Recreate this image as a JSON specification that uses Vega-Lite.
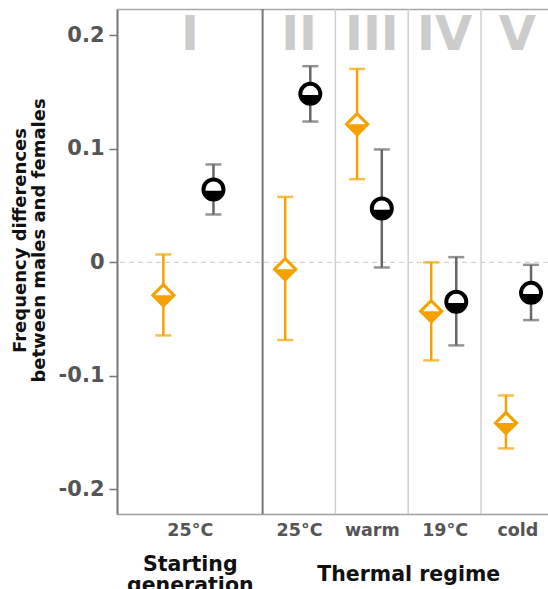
{
  "$schema": "https://vega.github.io/schema/vega-lite/v6.json",
  "autosize": {"type": "none"},
  "width": 431,
  "height": 505,
  "padding": {"left": 117, "top": 9, "right": 0, "bottom": 75},
  "datasets": {
    "points": [
      {"panel": "I", "series": "orange", "x": 0.637, "est": -0.0289, "lo": -0.0644, "hi": 0.007},
      {"panel": "I", "series": "black", "x": 1.325, "est": 0.0642, "lo": 0.0422, "hi": 0.0863},
      {"panel": "II", "series": "orange", "x": 2.31, "est": -0.006, "lo": -0.0685, "hi": 0.0577},
      {"panel": "II", "series": "black", "x": 2.655, "est": 0.1485, "lo": 0.1241, "hi": 0.1729},
      {"panel": "III", "series": "orange", "x": 3.298, "est": 0.1218, "lo": 0.0733, "hi": 0.1705},
      {"panel": "III", "series": "black", "x": 3.637, "est": 0.0475, "lo": -0.0045, "hi": 0.0995},
      {"panel": "IV", "series": "orange", "x": 4.316, "est": -0.043, "lo": -0.0864, "hi": 0.0},
      {"panel": "IV", "series": "black", "x": 4.66, "est": -0.0348, "lo": -0.0732, "hi": 0.0046},
      {"panel": "V", "series": "orange", "x": 5.343, "est": -0.1417, "lo": -0.164, "hi": -0.1173},
      {"panel": "V", "series": "black", "x": 5.687, "est": -0.0269, "lo": -0.0509, "hi": -0.0022}
    ],
    "dividers": [
      {"x": 2, "style": "major"},
      {"x": 3, "style": "minor"},
      {"x": 4, "style": "minor"},
      {"x": 5, "style": "minor"}
    ],
    "panels": [
      {"panel": "I", "x": 1},
      {"panel": "II", "x": 2.5},
      {"panel": "III", "x": 3.5},
      {"panel": "IV", "x": 4.5},
      {"panel": "V", "x": 5.5}
    ],
    "reference": [{"value": 0}]
  },
  "layer": [
    {
      "data": {"name": "reference"},
      "mark": {"type": "rule", "color": "#cccccc", "strokeWidth": 1, "strokeDash": [5, 4]},
      "encoding": {
        "y": {"field": "value", "type": "quantitative", "axis": null}
      }
    },
    {
      "data": {"name": "dividers"},
      "mark": {"type": "rule"},
      "encoding": {
        "x": {
          "field": "x",
          "type": "quantitative",
          "scale": {"domain": [0, 5.92], "nice": false, "zero": false},
          "axis": {"orient": "top", "domain": true, "domainColor": "#a8a8a8", "domainWidth": 1.5, "ticks": false, "labels": false, "title": null}
        },
        "color": {
          "field": "style",
          "type": "nominal",
          "scale": {"domain": ["major", "minor"], "range": ["#777777", "#d0d0d0"]},
          "legend": null
        },
        "strokeWidth": {
          "field": "style",
          "type": "ordinal",
          "scale": {"domain": ["major", "minor"], "range": [2, 1.5]},
          "legend": null
        }
      }
    },
    {
      "data": {"name": "panels"},
      "mark": {"type": "text", "fontSize": 48, "fontWeight": "bold", "color": "#cccccc", "baseline": "alphabetic", "align": "center"},
      "encoding": {
        "x": {
          "field": "x",
          "type": "quantitative",
          "axis": {
            "orient": "bottom",
            "values": [1],
            "labelExpr": "['Starting', 'generation']",
            "domain": false,
            "ticks": false,
            "labelPadding": 56,
            "labelBaseline": "alphabetic",
            "labelFontSize": 20.5,
            "labelLineHeight": 21,
            "labelColor": "#111111",
            "labelLimit": 0,
            "labelOverlap": false,
            "title": null
          }
        },
        "y": {"datum": 0.187, "type": "quantitative", "axis": null},
        "text": {"field": "panel"}
      }
    },
    {
      "data": {"name": "points"},
      "mark": {"type": "rule", "strokeWidth": 2.5},
      "encoding": {
        "x": {
          "field": "x",
          "type": "quantitative",
          "axis": {
            "orient": "bottom",
            "values": [1, 2.5, 3.5, 4.5, 5.5],
            "labelExpr": "datum.value == 1 || datum.value == 2.5 ? '25°C' : datum.value == 3.5 ? 'warm' : datum.value == 4.5 ? '19°C' : 'cold'",
            "domain": true,
            "domainColor": "#a0a0a0",
            "domainWidth": 1.5,
            "ticks": false,
            "labelPadding": 7,
            "labelFontSize": 17.5,
            "labelColor": "#555555",
            "labelOverlap": false,
            "title": null
          }
        },
        "y": {
          "field": "lo",
          "type": "quantitative",
          "scale": {"domain": [-0.2218, 0.2233], "nice": false, "zero": false},
          "axis": {
            "values": [-0.2, -0.1, 0, 0.1, 0.2],
            "labelExpr": "datum.value > 0.15 ? '0.2' : datum.value > 0.05 ? '0.1' : datum.value > -0.05 ? '0' : datum.value > -0.15 ? '-0.1' : '-0.2'",
            "domainColor": "#777777",
            "domainWidth": 2,
            "tickColor": "#777777",
            "tickWidth": 1.5,
            "tickSize": 8,
            "labelPadding": 5,
            "labelFontSize": 21,
            "labelColor": "#555555",
            "title": ["Frequency differences", "between males and females"],
            "titleFontSize": 18,
            "titleLineHeight": 19,
            "titleColor": "#111111",
            "titlePadding": 10,
            "titleY": 231
          }
        },
        "y2": {"field": "hi"},
        "color": {
          "field": "series",
          "type": "nominal",
          "scale": {"domain": ["orange", "black"], "range": ["#f5a200", "#666666"]},
          "legend": null
        }
      }
    },
    {
      "data": {"name": "points"},
      "mark": {"type": "tick", "orient": "horizontal", "size": 16, "thickness": 2.5},
      "encoding": {
        "x": {
          "field": "x",
          "type": "quantitative",
          "axis": {
            "orient": "bottom",
            "values": [4],
            "labelExpr": "'Thermal regime'",
            "domain": false,
            "ticks": false,
            "labelPadding": 66,
            "labelBaseline": "alphabetic",
            "labelFontSize": 20.5,
            "labelColor": "#111111",
            "labelLimit": 0,
            "labelOverlap": false,
            "title": null
          }
        },
        "y": {"field": "lo", "type": "quantitative", "axis": null},
        "color": {
          "field": "series",
          "type": "nominal",
          "scale": {"domain": ["orange", "black"], "range": ["#f5a200", "#666666"]},
          "legend": null
        }
      }
    },
    {
      "data": {"name": "points"},
      "mark": {"type": "tick", "orient": "horizontal", "size": 16, "thickness": 2.5},
      "encoding": {
        "x": {"field": "x", "type": "quantitative", "axis": null},
        "y": {"field": "hi", "type": "quantitative", "axis": null},
        "color": {
          "field": "series",
          "type": "nominal",
          "scale": {"domain": ["orange", "black"], "range": ["#f5a200", "#666666"]},
          "legend": null
        }
      }
    },
    {
      "data": {"name": "points"},
      "transform": [{"filter": "datum.series == 'orange'"}],
      "mark": {"type": "point", "shape": "diamond", "size": 440, "filled": true, "fill": "white", "stroke": "#f5a200", "strokeWidth": 3.2, "opacity": 1},
      "encoding": {
        "x": {"field": "x", "type": "quantitative", "axis": null},
        "y": {"field": "est", "type": "quantitative", "axis": null}
      }
    },
    {
      "data": {"name": "points"},
      "transform": [{"filter": "datum.series == 'orange'"}],
      "mark": {"type": "point", "shape": "M -1 0 L 1 0 L 0 1 Z", "size": 440, "filled": true, "fill": "#f5a200", "strokeWidth": 0, "opacity": 1},
      "encoding": {
        "x": {"field": "x", "type": "quantitative", "axis": null},
        "y": {"field": "est", "type": "quantitative", "axis": null}
      }
    },
    {
      "data": {"name": "points"},
      "transform": [{"filter": "datum.series == 'black'"}],
      "mark": {"type": "point", "shape": "circle", "size": 400, "filled": true, "fill": "white", "stroke": "black", "strokeWidth": 4, "opacity": 1},
      "encoding": {
        "x": {"field": "x", "type": "quantitative", "axis": null},
        "y": {"field": "est", "type": "quantitative", "axis": null}
      }
    },
    {
      "data": {"name": "points"},
      "transform": [{"filter": "datum.series == 'black'"}],
      "mark": {"type": "point", "shape": "M -1 0.12 L 1 0.12 A 1 1 0 0 1 -1 0.12 Z", "size": 400, "filled": true, "fill": "black", "strokeWidth": 0, "opacity": 1},
      "encoding": {
        "x": {"field": "x", "type": "quantitative", "axis": null},
        "y": {"field": "est", "type": "quantitative", "axis": null}
      }
    }
  ],
  "resolve": {
    "axis": {"x": "independent", "y": "independent"},
    "scale": {"color": "independent", "strokeWidth": "independent"}
  },
  "config": {
    "view": {"stroke": null},
    "font": "DejaVu Sans",
    "axis": {
      "grid": false,
      "labelFont": "DejaVu Sans",
      "labelFontWeight": "bold",
      "titleFont": "DejaVu Sans",
      "titleFontWeight": "bold"
    }
  }
}
